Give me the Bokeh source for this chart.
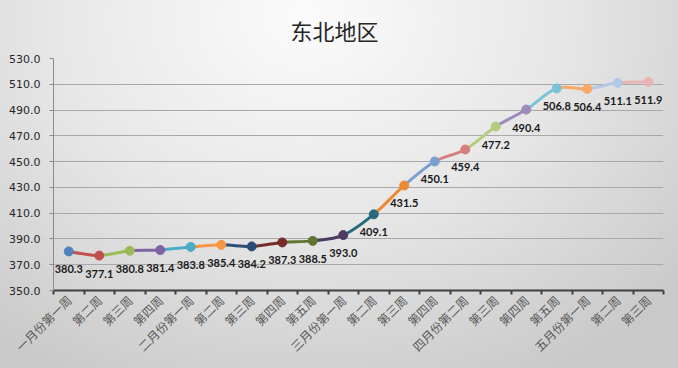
import math
from bokeh.plotting import figure
from bokeh.models import Range1d, LinearAxis, FixedTicker, NumeralTickFormatter, ColumnDataSource, Grid
from bokeh.core.properties import value
from bokeh.embed import file_html
from bokeh.resources import INLINE

title_text = "东北地区"
categories = ["一月份第一周", "第二周", "第三周", "第四周",
              "二月份第一周", "第二周", "第三周", "第四周", "第五周",
              "三月份第一周", "第二周", "第三周", "第四周",
              "四月份第二周", "第三周", "第四周", "第五周",
              "五月份第一周", "第二周", "第三周"]
values = [380.3, 377.1, 380.8, 381.4, 383.8, 385.4, 384.2, 387.3, 388.5, 393.0,
          409.1, 431.5, 450.1, 459.4, 477.2, 490.4, 506.8, 506.4, 511.1, 511.9]
y_ticks = [350, 370, 390, 410, 430, 450, 470, 490, 510, 530]
point_colors = ["#4F81BD", "#C0504D", "#9BBB59", "#8064A2", "#4BACC6", "#F79646",
                "#2C4D75", "#772C2A", "#5F7530", "#4D3B62", "#276A7C", "#EE8A35",
                "#7A9FD0", "#D47F7D", "#B3CC80", "#9F8BBB", "#78C3D8", "#F9A868",
                "#B4C8E8", "#E8B4B3"]

n = len(values)
xs = list(range(n))

p = figure(width=678, height=368, output_backend="svg", toolbar_location=None,
           x_range=Range1d(-0.5, n - 0.5), y_range=Range1d(350, 530),
           min_border_left=53, min_border_right=15, min_border_top=58, min_border_bottom=78,
           x_axis_location=None, y_axis_location=None)
p.styles = {"background": "radial-gradient(ellipse 75% 110% at 45% 5%, #fbfbfb 0%, #e7e7e7 50%, #c9c9c9 100%)"}
p.background_fill_color = None
p.border_fill_color = None
p.outline_line_color = None

p.title.text = title_text
p.title.align = "left"
p.title.vertical_align = "top"
p.title.text_font = "Noto Sans CJK SC"
p.title.text_font_size = "22px"
p.title.text_font_style = "normal"
p.title.text_color = "#262626"
p.title.offset = 237
p.title.standoff = 22

# y axis
yax = LinearAxis(ticker=FixedTicker(ticks=y_ticks), formatter=NumeralTickFormatter(format="0.0"))
yax.axis_line_color = "#8c8c8c"
yax.major_tick_line_color = "#8c8c8c"
yax.major_tick_out = 4
yax.major_tick_in = 0
yax.minor_tick_line_color = None
yax.major_label_text_font = "DejaVu Sans"
yax.major_label_text_font_size = "11px"
yax.major_label_text_color = "#262626"
yax.major_label_standoff = 9
p.add_layout(yax, "left")

# bottom axis with ticks between categories
bax = LinearAxis(ticker=FixedTicker(ticks=[i - 0.5 for i in range(n + 1)]))
bax.major_label_overrides = {i - 0.5: "" for i in range(n + 1)}
bax.axis_line_color = "#404040"
bax.axis_line_width = 2
bax.major_tick_line_color = "#404040"
bax.major_tick_line_width = 2
bax.major_tick_out = 4
bax.major_tick_in = 0
bax.minor_tick_line_color = None
bax.major_label_text_font_size = "1px"
bax.major_label_standoff = 0
p.add_layout(bax, "below")

# category label axis
lax = LinearAxis(ticker=FixedTicker(ticks=xs))
lax.major_label_overrides = {i: c for i, c in enumerate(categories)}
lax.axis_line_color = None
lax.major_tick_line_color = None
lax.minor_tick_line_color = None
lax.major_tick_out = 0
lax.major_tick_in = 0
lax.major_label_orientation = math.pi / 4
lax.major_label_text_font = "Noto Sans CJK SC"
lax.major_label_text_font_size = "12px"
lax.major_label_text_color = "#595959"
lax.major_label_standoff = 3
p.add_layout(lax, "below")

p.ygrid.grid_line_color = None
p.xgrid.grid_line_color = None
g = Grid(dimension=1, ticker=FixedTicker(ticks=y_ticks[1:]))
g.grid_line_color = "#a8a8a8"
g.grid_line_width = 1
p.add_layout(g)

# smooth segments (Catmull-Rom style bezier)
def P(i):
    i = max(0, min(n - 1, i))
    return xs[i], values[i]

seg = dict(x0=[], y0=[], x1=[], y1=[], cx0=[], cy0=[], cx1=[], cy1=[], color=[])
for i in range(n - 1):
    xa, ya = P(i)
    xb, yb = P(i + 1)
    xp, yp = P(i - 1)
    xn, yn = P(i + 2)
    seg["x0"].append(xa); seg["y0"].append(ya)
    seg["x1"].append(xb); seg["y1"].append(yb)
    seg["cx0"].append(xa + (xb - xp) / 6.0); seg["cy0"].append(ya + (yb - yp) / 6.0)
    seg["cx1"].append(xb - (xn - xa) / 6.0); seg["cy1"].append(yb - (yn - ya) / 6.0)
    seg["color"].append(point_colors[i + 1])
p.bezier(x0="x0", y0="y0", x1="x1", y1="y1", cx0="cx0", cy0="cy0", cx1="cx1", cy1="cy1",
         line_color="color", line_width=3, source=ColumnDataSource(seg))

src = ColumnDataSource(dict(x=xs, y=values, c=point_colors, t=["%.1f" % v for v in values]))
p.scatter("x", "y", size=9, fill_color="c", line_color="c", source=src)
p.text("x", "y", text="t", source=src, text_align="center", text_baseline="middle",
       y_offset=18, text_font=value("Lato"), text_font_style="bold",
       text_font_size="11px", text_color="#1a1a1a")

open("out.html", "w").write(file_html(p, INLINE))
